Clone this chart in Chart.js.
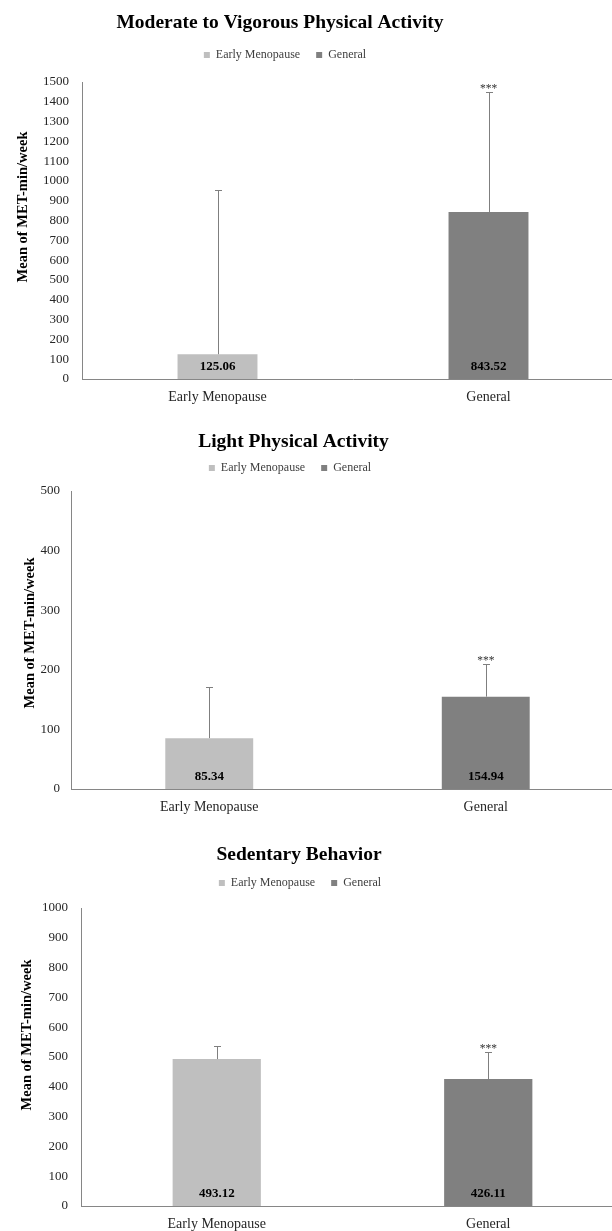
<!DOCTYPE html>
<html lang="en">
<head>
<meta charset="UTF-8">
<title>Mean of MET-min/week</title>
<script src="https://cdn.jsdelivr.net/npm/chart.js@4/dist/chart.umd.min.js"></script>
<style>
  html, body { margin: 0; padding: 0; background: #fff; overflow: hidden; }
  #page { position: relative; width: 612px; height: 1231px; overflow: hidden; }
  canvas { position: absolute; left: 0; display: block; }
</style>
</head>
<body>
<div id="page">
  <canvas id="mvpa" width="630" height="410" style="top:0"></canvas>
  <canvas id="lpa" width="630" height="410" style="top:410px"></canvas>
  <canvas id="sed" width="630" height="411" style="top:820px"></canvas>
</div>
<script>
const categories = ['Early Menopause', 'General'];
const seriesNames = ['Early Menopause', 'General'];
const seriesColors = ['#bfbfbf', '#808080'];
const signif = ['', '***'];

// means, and how far the (upper) whisker reaches above each mean
const mvpaMeans = [125.06, 843.52];
const mvpaErrUp = [830, 606];
const lpaMeans = [85.34, 154.94];
const lpaErrUp = [86, 55];
const sedMeans = [493.12, 426.11];
const sedErrUp = [44, 91];

const mvpaYMax = 1500;
const lpaYMax = 500;
const sedYMax = 1000;
const yStep = 100;

const serif = '"Liberation Serif", "Times New Roman", serif';

// error bars, value labels and the *** marks
const barExtras = {
  id: 'barExtras',
  afterDatasetsDraw(chart, args, opts) {
    const ctx = chart.ctx;
    const y = chart.scales.y;
    ctx.save();
    chart.data.datasets.forEach((ds, di) => {
      const meta = chart.getDatasetMeta(di);
      meta.data.forEach((bar, j) => {
        const v = ds.data[j];
        if (v == null) return;
        const x = Math.round(bar.x) + 0.5;
        const top = Math.round(y.getPixelForValue(v + opts.errUp[j])) + 0.5;
        ctx.strokeStyle = '#7f7f7f';
        ctx.lineWidth = 1;
        ctx.beginPath();
        ctx.moveTo(x, bar.y);
        ctx.lineTo(x, top);
        ctx.moveTo(x - 3.5, top);
        ctx.lineTo(x + 3.5, top);
        ctx.stroke();

        ctx.fillStyle = '#000';
        ctx.font = 'bold 13px ' + serif;
        ctx.textAlign = 'center';
        ctx.textBaseline = 'middle';
        ctx.fillText(v.toFixed(2), bar.x, bar.base - 12);

        if (signif[j]) {
          ctx.fillStyle = '#333';
          ctx.font = '11.5px ' + serif;
          ctx.textBaseline = 'alphabetic';
          ctx.fillText(signif[j], bar.x, top - 1);
        }
      });
    });
    ctx.restore();
  }
};

// puts title / legend / y title where the original has them
const headerPlacement = {
  id: 'headerPlacement',
  beforeLayout(chart, args, opts) {
    const lg = chart.legend;
    if (lg && !lg._fitWrapped) {
      const fit = lg.fit;
      lg.fit = function () { fit.call(this); this.height = opts.legendHeight; };
      lg._fitWrapped = true;
    }
    const ys = chart.scales.y;
    if (ys && !ys._titleWrapped) {
      const draw = ys.drawTitle;
      ys.drawTitle = function () {
        const t = this.top, b = this.bottom;
        this.top += opts.yTitleShift;
        this.bottom += opts.yTitleShift;
        draw.call(this);
        this.top = t;
        this.bottom = b;
      };
      ys._titleWrapped = true;
    }
  },
  afterLayout(chart, args, opts) {
    const t = chart.titleBlock, lg = chart.legend;
    let half = Math.min(opts.titleCx, chart.width - opts.titleCx);
    t.left = opts.titleCx - half; t.right = opts.titleCx + half; t.width = 2 * half;
    half = Math.min(opts.legendCx, chart.width - opts.legendCx);
    lg.left = opts.legendCx - half; lg.right = opts.legendCx + half; lg.width = 2 * half;
    const h = lg.height;
    lg.top = opts.legendTop; lg.bottom = opts.legendTop + h;
  }
};

function makeChart(id, title, means, errUp, yMax, lay) {
  const datasets = seriesNames.map((name, s) => ({
    label: name,
    data: categories.map((c, j) => (j === s ? means[j] : null)),
    backgroundColor: seriesColors[s],
    borderWidth: 0,
    categoryPercentage: 1,
    barPercentage: lay.barPct
  }));
  return new Chart(document.getElementById(id), {
    type: 'bar',
    data: { labels: categories, datasets: datasets },
    plugins: [headerPlacement, barExtras],
    options: {
      responsive: false,
      animation: false,
      events: [],
      datasets: { bar: { grouped: false, skipNull: true } },
      layout: { padding: { left: 0, right: 6, top: 0, bottom: 0 } },
      plugins: {
        title: {
          display: true,
          text: title,
          color: '#000',
          font: { family: serif, size: lay.titleSize, weight: 'bold', lineHeight: 1 },
          padding: { top: lay.titleTop, bottom: 0 }
        },
        legend: {
          display: true,
          position: 'top',
          labels: {
            boxWidth: 6,
            boxHeight: 6,
            padding: 16,
            color: '#404040',
            font: { family: serif, size: 12 }
          }
        },
        tooltip: { enabled: false },
        headerPlacement: {
          titleCx: lay.titleCx,
          legendCx: lay.legendCx,
          legendTop: lay.legendTop,
          legendHeight: lay.legendHeight,
          yTitleShift: lay.yTitleShift
        },
        barExtras: { errUp: errUp }
      },
      scales: {
        x: {
          grid: { display: false, drawTicks: false },
          border: { display: true, color: '#868686', width: 1 },
          ticks: { color: '#262626', font: { family: serif, size: 14 }, padding: 10 },
          afterFit(scale) { scale.height = lay.xHeight; }
        },
        y: {
          min: 0,
          max: yMax,
          grid: { display: false, drawTicks: false },
          border: { display: true, color: '#868686', width: 1 },
          ticks: {
            stepSize: yStep,
            color: '#262626',
            font: { family: serif, size: 13 },
            padding: lay.tickPad,
            callback: (v) => String(v)
          },
          title: {
            display: true,
            text: 'Mean of MET-min/week',
            color: '#000',
            font: { family: serif, size: 14.5, weight: 'bold', lineHeight: 1.2 },
            padding: { top: lay.yTitleX - 8.7, bottom: 0 }
          },
          afterFit(scale) { scale.width = lay.axisX; }
        }
      }
    }
  });
}

makeChart('mvpa', 'Moderate to Vigorous Physical Activity', mvpaMeans, mvpaErrUp, mvpaYMax, {
  titleSize: 19.5, titleTop: 13, titleCx: 280, legendCx: 285, legendTop: 33, legendHeight: 49.5,
  axisX: 82, xHeight: 31, tickPad: 13, yTitleX: 23, yTitleShift: -23.5, barPct: 0.295
});
makeChart('lpa', 'Light Physical Activity', lpaMeans, lpaErrUp, lpaYMax, {
  titleSize: 19.5, titleTop: 22, titleCx: 293.5, legendCx: 290, legendTop: 36, legendHeight: 39.5,
  axisX: 71, xHeight: 31, tickPad: 11, yTitleX: 30, yTitleShift: -7, barPct: 0.318
});
makeChart('sed', 'Sedentary Behavior', sedMeans, sedErrUp, sedYMax, {
  titleSize: 19.5, titleTop: 25, titleCx: 299, legendCx: 300, legendTop: 41, legendHeight: 43.5,
  axisX: 81, xHeight: 25, tickPad: 13, yTitleX: 27, yTitleShift: -22, barPct: 0.325
});
</script>
</body>
</html>
